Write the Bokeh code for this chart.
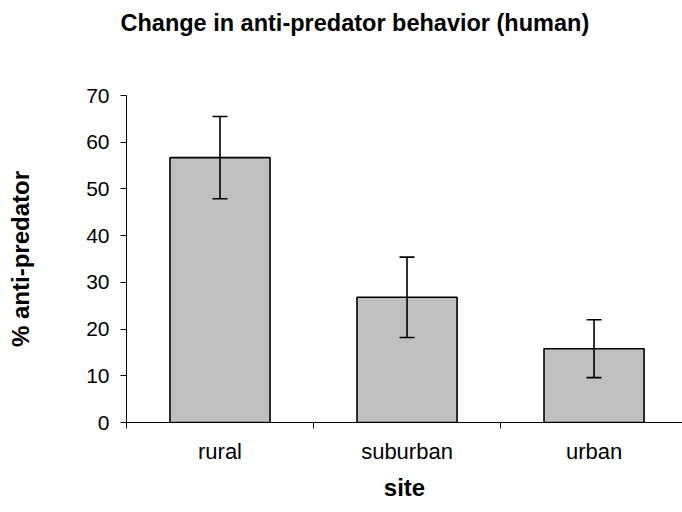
from bokeh.plotting import figure
from bokeh.models import ColumnDataSource, Range1d, FixedTicker, Whisker, TeeHead
from bokeh.embed import file_html
from bokeh.resources import INLINE

sites = ["rural", "suburban", "urban"]
pct = [56.7, 26.8, 15.8]
err = [8.8, 8.6, 6.2]
y_ticks = [0, 10, 20, 30, 40, 50, 60, 70]
title_text = "Change in anti-predator behavior (human)"

centers = [i + 0.5 for i in range(len(sites))]
bounds = [float(i) for i in range(len(sites) + 1)]
upper = [v + e for v, e in zip(pct, err)]
lower = [v - e for v, e in zip(pct, err)]

src = ColumnDataSource(dict(x=centers, top=pct, upper=upper, lower=lower, site=sites))

FONT = "Liberation Sans"

p = figure(width=682, height=512, output_backend="svg", toolbar_location=None,
           x_range=Range1d(0, 2.973), y_range=Range1d(0, 70),
           min_border_left=126, min_border_right=0, min_border_top=95, min_border_bottom=90)
p.outline_line_color = None
p.grid.visible = False
p.background_fill_color = "white"
p.border_fill_color = "white"

p.vbar(x="x", top="top", width=0.535, bottom=0, source=src,
       fill_color="#c0c0c0", line_color="black", line_width=1.6)

w = Whisker(base="x", upper="upper", lower="lower", source=src,
            line_color="black", line_width=1.6, level="overlay",
            upper_head=TeeHead(size=15, line_color="black", line_width=1.6),
            lower_head=TeeHead(size=15, line_color="black", line_width=1.6))
p.add_layout(w)

# trailing blank lines leave the gap between the title and the plot area
p.title.text = title_text + "\n\n"
p.title.text_font = FONT
p.title.text_font_size = "23.5px"
p.title.text_font_style = "bold"
p.title.text_color = "black"
p.title.text_line_height = 1.12
p.title.align = "left"
p.title.offset = -6
p.title.vertical_align = "top"
p.title.standoff = 0

xa = p.xaxis[0]
xa.ticker = FixedTicker(ticks=centers, minor_ticks=bounds)
xa.major_label_overrides = {c: s for c, s in zip(centers, sites)}
xa.major_tick_out = 0
xa.major_tick_in = 0
xa.minor_tick_out = 6
xa.minor_tick_in = 0
xa.minor_tick_line_color = "black"
xa.axis_line_color = "black"
xa.major_label_standoff = 10
xa.major_label_text_font = FONT
xa.major_label_text_font_size = "22px"
xa.major_label_text_color = "black"
xa.axis_label = "site"
xa.axis_label_text_font = FONT
xa.axis_label_text_font_size = "24px"
xa.axis_label_text_font_style = "bold"
xa.axis_label_text_color = "black"
xa.axis_label_standoff = 7

ya = p.yaxis[0]
ya.ticker = FixedTicker(ticks=y_ticks, minor_ticks=[])
ya.major_tick_out = 6
ya.major_tick_in = 0
ya.major_tick_line_color = "black"
ya.axis_line_color = "black"
ya.major_label_standoff = 11
ya.major_label_text_font = FONT
ya.major_label_text_font_size = "21px"
ya.major_label_text_color = "black"
ya.axis_label = "% anti-predator"
ya.axis_label_text_font = FONT
ya.axis_label_text_font_size = "24px"
ya.axis_label_text_font_style = "bold"
ya.axis_label_text_color = "black"
ya.axis_label_standoff = 49

open("out.html", "w").write(file_html(p, INLINE))
